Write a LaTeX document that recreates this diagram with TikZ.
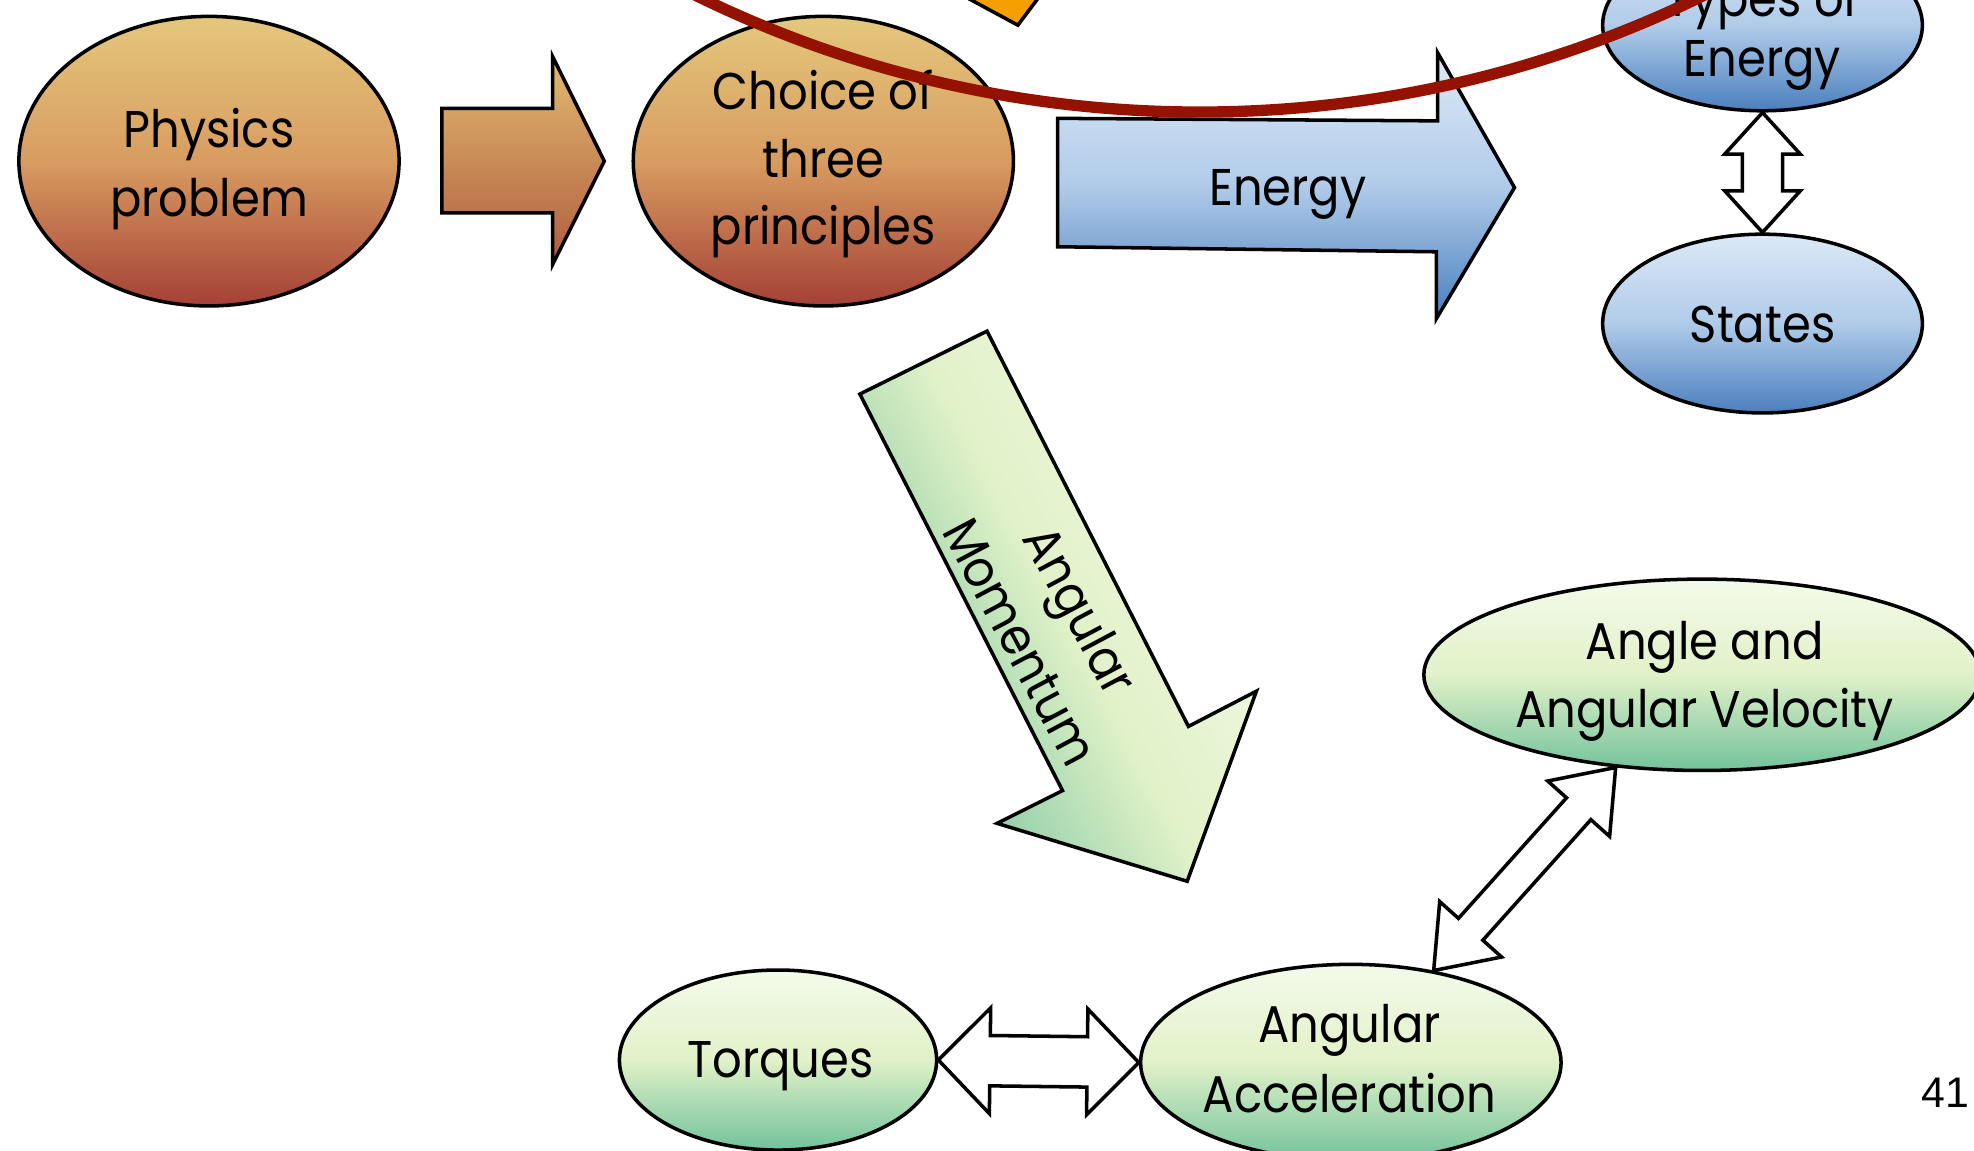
\documentclass[tikz,border=0pt]{standalone}
\usepackage{fontspec}
\setmainfont{Poppins}[FakeStretch=0.9]
\newfontfamily\numfont{Liberation Sans}
\usetikzlibrary{shapes.geometric,calc}
\definecolor{or1}{RGB}{228,199,124}
\definecolor{or2}{RGB}{216,156,96}
\definecolor{or3}{RGB}{165,64,54}
\definecolor{ora1}{RGB}{226,186,112}
\definecolor{ora3}{RGB}{176,92,62}
\definecolor{bl1}{RGB}{220,233,247}
\definecolor{bl2}{RGB}{176,203,233}
\definecolor{bl3}{RGB}{74,127,190}
\definecolor{gr1}{RGB}{244,250,234}
\definecolor{gr2}{RGB}{225,241,200}
\definecolor{gr3}{RGB}{114,194,156}
\definecolor{redline}{RGB}{150,18,0}
\definecolor{orangetip}{RGB}{245,160,0}
\newcommand\lblfont{\fontsize{41}{54}\selectfont}
\newcommand\dblarr[6]{%
  \coordinate (#1a) at ($(#2)!#4!(#3)$);
  \coordinate (#1b) at ($(#3)!#4!(#2)$);
  \draw[dblarrow] (#2) -- ($(#1a)!#5!90:(#3)$) -- ($(#1a)!#6!90:(#3)$)
    -- ($(#1b)!#6!-90:(#2)$) -- ($(#1b)!#5!-90:(#2)$) -- (#3)
    -- ($(#1b)!#5!90:(#2)$) -- ($(#1b)!#6!90:(#2)$)
    -- ($(#1a)!#6!-90:(#3)$) -- ($(#1a)!#5!-90:(#3)$) -- cycle;}
\begin{document}
\begin{tikzpicture}[x=1pt,y=-1pt,
  outl/.style={draw=black, line width=2.8pt},
  ellbase/.style={ellipse, outl, inner sep=0pt},
  orell/.style={ellbase, top color=or1, bottom color=or3, middle color=or2},
  blell/.style={ellbase, top color=bl1, bottom color=bl3, middle color=bl2},
  grell/.style={ellbase, top color=gr1, bottom color=gr3, middle color=gr2},
  lbl/.style={font=\lblfont, anchor=base, inner sep=0pt},
  dblarrow/.style={outl, fill=white},
  orarrow/.style={outl, top color=ora1, bottom color=ora3},
  blarrow/.style={outl, top color=bl1, bottom color=bl3, middle color=bl2},
  grarrow/.style={outl, top color=gr1, bottom color=gr3, middle color=gr2, shading angle=-62},
  circ/.style={draw=redline, line width=9pt}
]
\useasboundingbox (0,0) rectangle (1568,914);
\clip (0,0) rectangle (1568,914);

% ellipses
\node[orell, minimum width=302pt, minimum height=230pt] (phys) at (166,128) {};
\node[orell, minimum width=302pt, minimum height=230pt] (choice) at (654,128) {};
\node[blell, minimum width=254pt, minimum height=136pt] (toe) at (1400,20) {};
\node[blell, minimum width=254pt, minimum height=142pt] (states) at (1400,257) {};
\node[grell, minimum width=442pt, minimum height=152pt] (ang) at (1352,536) {};
\node[grell, minimum width=252pt, minimum height=143pt] (torq) at (618,842) {};
\node[grell, minimum width=334pt, minimum height=156pt] (acc) at (1073,844) {};

% orange tip of an arrow cut by the top edge
\draw[outl, fill=orangetip] (753,-10) -- (808.5,20) -- (831,-10) -- cycle;

% block arrows
\draw[orarrow] (351,86) -- (439,86) -- (439,45) -- (480,128) -- (439,210) -- (439,169) -- (351,169) -- cycle;
\draw[blarrow] (840,94) -- (1142,96) -- (1142,42) -- (1203,149) -- (1141,253) -- (1141,200) -- (840,196) -- cycle;
\draw[grarrow] (683,313) -- (784,263) -- (944,577) -- (998,549) -- (943,700) -- (792,654) -- (844,628) -- cycle;

% double arrows
\dblarr{v}{toe.south}{states.north}{33pt}{30pt}{16pt}
\dblarr{h}{torq.east}{acc.west}{41pt}{42pt}{20pt}
\dblarr{d}{acc.48.7}{ang.227.5}{44pt}{33pt}{13pt}

% labels
\node[lbl] (t1) at (166,117) {Physics};
\node[lbl] (t2) at (166,172) {problem};
\node[lbl] (t3) at (654,87) {Choice of};
\node[lbl] (t4) at (654,141) {three};
\node[lbl] (t5) at (654,194) {principles};
\node[lbl] (t6) at (1400,13) {Types of};
\node[lbl] (t7) at (1400,61) {Energy};
\node[lbl] (t8) at (1400,272) {States};
\node[lbl] (t9) at (1023,163) {Energy};
\node[lbl] (t10) at (1354,524) {Angle and};
\node[lbl] (t11) at (1354,578) {Angular Velocity};
\node[lbl] (t12) at (1072,828) {Angular};
\node[lbl] (t13) at (1072,884) {Acceleration};
\node[lbl] (t14) at (620,856) {Torques};
\node[font=\lblfont, align=center, inner sep=0pt, rotate=-62] (t15) at (835,497) {Angular\\Momentum};
\node[font=\numfont\fontsize{34}{40}\selectfont, anchor=base, inner sep=0pt] (pg) at (1545,880) {41};

% red annotation circle
\draw[circ] (953,-820) circle[radius=909pt];
\end{tikzpicture}
\end{document}
